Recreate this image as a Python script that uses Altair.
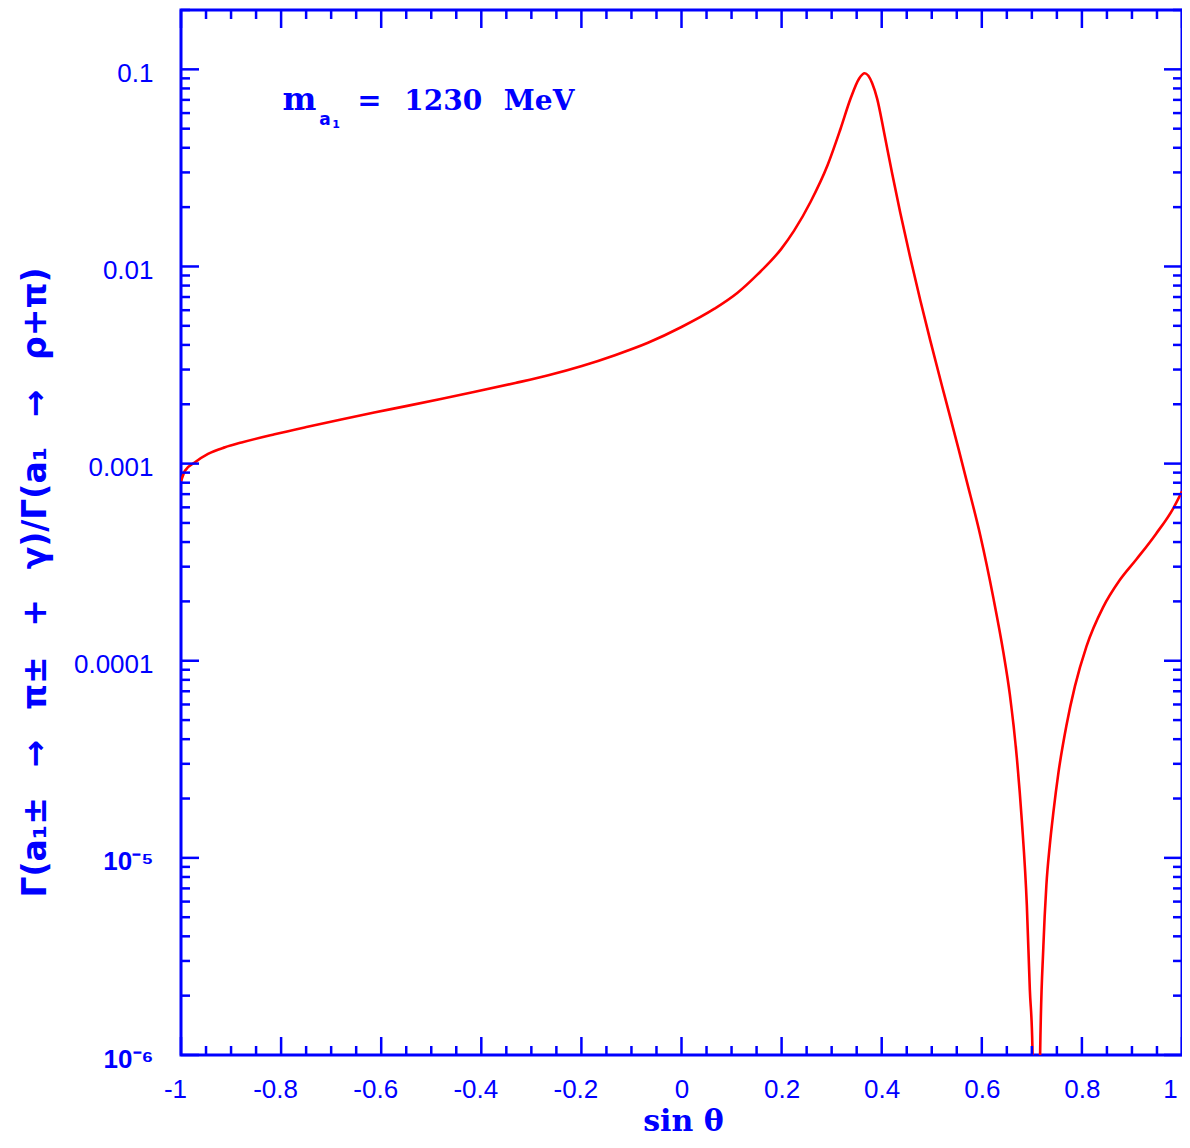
import altair as alt
import pandas as pd

# ---- curve (sin theta, ratio) ----
sin_theta = [-1.0, -0.992, -0.972, -0.946, -0.912, -0.879, -0.813, -0.747, -0.680, -0.614,
             -0.548, -0.481, -0.415, -0.332, -0.266, -0.199, -0.133, -0.067, 0.0, 0.066,
             0.112, 0.152, 0.199, 0.225, 0.258, 0.292, 0.318, 0.338, 0.355, 0.366,
             0.381, 0.391, 0.404, 0.421, 0.437, 0.457, 0.477, 0.497, 0.524, 0.554,
             0.570, 0.597, 0.623, 0.643, 0.656, 0.670, 0.680, 0.690, 0.696, 0.701,
             0.709, 0.7165, 0.723, 0.729, 0.736, 0.743, 0.753, 0.769, 0.786, 0.809,
             0.842, 0.875, 0.909, 0.948, 0.982, 1.0]
ratio = [8.13e-4, 9.2e-4, 1.016e-3, 1.12e-3, 1.21e-3, 1.28e-3, 1.409e-3, 1.538e-3, 1.675e-3, 1.816e-3,
         1.963e-3, 2.128e-3, 2.307e-3, 2.564e-3, 2.805e-3, 3.126e-3, 3.548e-3, 4.102e-3, 4.932e-3, 6.109e-3,
         7.362e-3, 9.120e-3, 1.225e-2, 1.52e-2, 2.13e-2, 3.27e-2, 5.01e-2, 7.13e-2, 8.99e-2, 9.55e-2,
         8.51e-2, 7.08e-2, 4.90e-2, 2.95e-2, 1.88e-2, 1.11e-2, 6.76e-3, 4.22e-3, 2.29e-3, 1.175e-3,
         8.13e-4, 4.32e-4, 2.09e-4, 1.107e-4, 6.75e-5, 3.22e-5, 1.54e-5, 5.74e-6, 2.14e-6, 1.13e-6,
         1e-8, 1.0e-6, 3.55e-6, 7.24e-6, 1.17e-5, 1.70e-5, 2.69e-5, 4.68e-5, 7.41e-5, 1.18e-4,
         1.86e-4, 2.55e-4, 3.27e-4, 4.40e-4, 5.90e-4, 7.24e-4]

# ---- axis ticks ----
x_major = [-1.0, -0.8, -0.6, -0.4, -0.2, 0.0, 0.2, 0.4, 0.6, 0.8, 1.0]
x_minor = [round(-1 + 0.05 * i, 2) for i in range(41) if i % 4 != 0]
y_major = [1e-6, 1e-5, 1e-4, 1e-3, 1e-2, 1e-1]
y_minor = [m * 10.0 ** e for e in range(-6, 0) for m in range(2, 10) if m * 10.0 ** e <= 0.2001]

BLUE = "#0000FF"
RED = "#FF0000"
W, H = 1001, 1045
MAJ, MIN = 18, 9
SP = "\u2002\u2009\u2009"

xscale = alt.Scale(domain=[-1, 1], nice=False, zero=False)
yscale = alt.Scale(type="log", domain=[1e-6, 0.2], nice=False)

df = pd.DataFrame({"s": sin_theta, "r": ratio})

y_title = SP.join(["Γ(a₁±", "→", "π±", "+", "γ)/Γ(a₁", "→", "ρ+π)"])

x_axis = alt.Axis(
    values=x_major, ticks=False, domain=False, grid=False, labelFlush=False,
    labelFont="Liberation Sans", labelFontSize=26, labelColor=BLUE, labelPadding=21,
    labelExpr="'' + datum.value",
    labelOffset={"condition": [{"test": "datum.value == 1", "value": -12},
                               {"test": "datum.value < 0", "value": -6}], "value": 0},
    title="sin θ", titleFont="DejaVu Serif", titleFontSize=30, titleFontWeight="bold",
    titleColor=BLUE, titleX=502, titleY=75, titleBaseline="alphabetic", titleAnchor="middle",
)
y_axis = alt.Axis(
    values=y_major, ticks=False, domain=False, grid=False, labelFlush=False,
    labelFont="Liberation Sans", labelFontSize=26, labelColor=BLUE, labelPadding=28,
    labelOffset=4,
    labelFontWeight={"condition": {"test": "datum.value < 5e-5", "value": "bold"}, "value": "normal"},
    labelExpr="datum.value >= 0.00005 ? '' + datum.value : (datum.value < 5e-6 ? '10⁻⁶' : '10⁻⁵')",
    title=y_title, titleFont="DejaVu Sans", titleFontSize=33,
    titleFontWeight="bold", titleColor=BLUE, titleAngle=-90, titleX=-146, titleY=572,
    titleAlign="center", titleBaseline="middle", titleLimit=1000,
)

X = lambda: alt.X("s:Q", scale=xscale, axis=x_axis)
Y = lambda: alt.Y("r:Q", scale=yscale, axis=y_axis)

curve = alt.Chart(df).mark_line(color=RED, strokeWidth=2.6, clip=True, interpolate="monotone").encode(
    x=X(), y=Y(),
)

def yticks(vals, length):
    d = pd.DataFrame({"r": vals})
    left = alt.Chart(d).mark_rule(color=BLUE, strokeWidth=2.5).encode(
        y=Y(), x=alt.value(0), x2=alt.value(length))
    right = alt.Chart(d).mark_rule(color=BLUE, strokeWidth=2.5).encode(
        y=Y(), x=alt.value(W), x2=alt.value(W - length))
    return [left, right]

def xticks(vals, length):
    d = pd.DataFrame({"s": vals})
    bottom = alt.Chart(d).mark_rule(color=BLUE, strokeWidth=2.5).encode(
        x=X(), y=alt.value(H), y2=alt.value(H - length))
    top = alt.Chart(d).mark_rule(color=BLUE, strokeWidth=2.5).encode(
        x=X(), y=alt.value(0), y2=alt.value(length))
    return [bottom, top]

def ann(text, sx, r, size, weight="normal", font="DejaVu Serif"):
    d = pd.DataFrame({"s": [sx], "r": [r], "t": [text]})
    return alt.Chart(d).mark_text(
        color=BLUE, font=font, fontSize=size, fontWeight=weight, align="left", baseline="alphabetic"
    ).encode(x=X(), y=Y(), text="t:N")

annotations = [
    ann("m", -0.797, 0.062, 32, "bold"),
    ann("a", -0.724, 0.0519, 17, "bold", "DejaVu Sans"),
    ann("1", -0.698, 0.0505, 11, "bold", "DejaVu Sans"),
    ann("=", -0.648, 0.062, 29, "bold"),
    ann("1230", -0.554, 0.062, 28, "bold"),
    ann("MeV", -0.355, 0.062, 28, "bold"),
]

layers = [curve] + yticks(y_major, MAJ) + yticks(y_minor, MIN) + xticks(x_major, MAJ) + xticks(x_minor, MIN) + annotations

chart = alt.layer(*layers).properties(
    width=W, height=H,
    padding={"left": 173, "top": 2, "right": 0, "bottom": 85},
    autosize=alt.AutoSizeParams(type="none"),
).configure(background="white").configure_view(stroke=BLUE, strokeWidth=3)

chart.save("out.html", embed_options={"renderer": "svg", "actions": False})
